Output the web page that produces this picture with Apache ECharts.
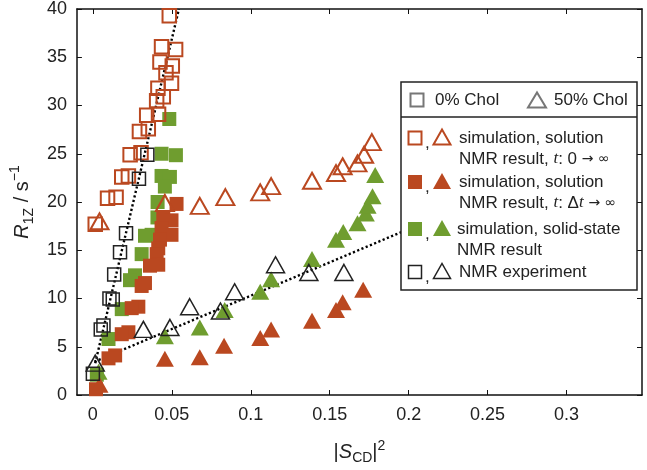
<!DOCTYPE html>
<html><head><meta charset="utf-8">
<script src="https://cdn.jsdelivr.net/npm/echarts@6/dist/echarts.min.js"></script>
<style>html,body{margin:0;padding:0;background:#fff}#c{width:647px;height:470px}</style>
</head><body><div id="c"></div>
<script>
// ---- data ----
const xTickValues = [0, 0.05, 0.1, 0.15, 0.2, 0.25, 0.3];
const yTickValues = [0, 5, 10, 15, 20, 25, 30, 35, 40];

// 0% Chol, simulation solution NMR t:0->inf (open red squares)
const sqSimT0 = [[0.0484,39.3],[0.0435,36.1],[0.0524,35.8],[0.0425,34.5],[0.0503,34.1],[0.0463,33.4],[0.0498,32.3],[0.0412,31.8],[0.0446,30.9],[0.0404,30.5],[0.0416,29.1],[0.0341,29.0],[0.0351,27.6],[0.0295,27.3],[0.0236,24.9],[0.0305,25.1],[0.0183,22.6],[0.0225,22.7],[0.0093,20.4],[0.0147,20.5],[0.0015,17.7]];
// 0% Chol, simulation solution NMR t:dt->inf (filled red squares)
const sqSimDt = [[0.053,19.8],[0.0446,18.4],[0.0498,18.1],[0.0435,17.3],[0.0498,16.6],[0.0425,16.1],[0.0414,15.2],[0.0404,14.6],[0.0414,13.5],[0.0362,13.4],[0.033,11.6],[0.0309,11.3],[0.0288,9.15],[0.0246,9.0],[0.0225,6.5],[0.0183,6.3],[0.0141,4.1],[0.0099,3.8],[0.002,0.6]];
// 0% Chol, simulation solid-state NMR (filled green squares)
const sqSimSolid = [[0.0484,28.6],[0.0435,25.0],[0.0526,24.85],[0.0435,22.7],[0.0488,22.6],[0.0456,21.6],[0.041,20.0],[0.0409,18.4],[0.0372,16.6],[0.033,16.5],[0.0309,14.6],[0.0267,12.4],[0.0235,11.9],[0.0183,8.9],[0.0099,5.8],[0.0025,2.1]];
// 0% Chol, NMR experiment (open black squares)
const sqExp = [[0.0345,24.9],[0.0292,22.4],[0.021,16.75],[0.0172,14.8],[0.0135,12.5],[0.0105,10.0],[0.0126,9.9],[0.0067,7.2],[0.005,6.8],[0.0,2.2]];

// 50% Chol
const triSimT0 = [[0.0042,18.0],[0.0456,19.9],[0.0677,19.6],[0.0839,20.5],[0.106,21.0],[0.1129,21.65],[0.1388,22.2],[0.154,23.0],[0.1582,23.7],[0.1676,24.0],[0.1718,24.9],[0.1767,26.2]];
const triSimDt = [[0.0042,1.05],[0.0456,3.75],[0.0677,3.9],[0.0831,5.1],[0.106,5.9],[0.1129,6.8],[0.1388,7.7],[0.154,8.8],[0.1582,9.6],[0.1712,10.9]];
const triSimSolid = [[0.0036,2.4],[0.0456,6.1],[0.0677,7.0],[0.0835,8.8],[0.106,10.7],[0.1129,12.0],[0.1388,14.1],[0.154,16.1],[0.1586,16.9],[0.1676,17.8],[0.1729,18.8],[0.174,19.6],[0.1771,20.6],[0.1788,22.8]];
const triExp = [[0.0015,3.3],[0.032,6.8],[0.0488,7.0],[0.0613,9.15],[0.0808,8.7],[0.0898,10.7],[0.1157,13.5],[0.1368,12.7],[0.159,12.7]];

// dotted fit lines
const fit0 = [[0.0015,3.3],[0.0545,40]];
const fit50 = [[0.001,3.45],[0.2,17.2]];

// ---- styles ----
const RED = '#BA4820';
const GREEN = '#6F9D2F';
const BLACK = '#222';
const FONT = 'Liberation Sans, Arial, sans-serif';

const chart = echarts.init(document.getElementById('c'), null, {renderer: 'canvas'});

function openSeries(name, data, symbol, size, color, bw, z) {
  return {name, type: 'scatter', data, symbol, symbolSize: size, z,
    itemStyle: {color: 'rgba(255,255,255,0)', borderColor: color, borderWidth: bw, opacity: 1}};
}
function fillSeries(name, data, symbol, size, color, z) {
  return {name, type: 'scatter', data, symbol, symbolSize: size, z,
    itemStyle: {color: color, opacity: 1}};
}
function fitSeries(data) {
  return {type: 'line', data, symbol: 'none', z: 1, silent: true,
    lineStyle: {color: '#000', width: 2.4, type: [2.2, 2.4], cap: 'butt'}};
}

// legend helper graphics
function tri(cx, cy, w, h, fill, stroke, lw) {
  return {type: 'polygon', shape: {points: [[cx - w/2, cy + h/2], [cx + w/2, cy + h/2], [cx, cy - h/2]]},
    style: {fill: fill || 'none', stroke: stroke || null, lineWidth: lw || 0}, z: 100};
}
function sq(cx, cy, s, fill, stroke, lw) {
  return {type: 'rect', shape: {x: cx - s/2, y: cy - s/2, width: s, height: s},
    style: {fill: fill || 'none', stroke: stroke || null, lineWidth: lw || 0}, z: 100};
}
function txt(x, y, t, rich) {
  return {type: 'text', x, y, z: 100,
    style: {text: t, font: '17px ' + FONT, fill: '#222', textVerticalAlign: 'middle', rich: rich}};
}
const legRich = {
  n: {fontSize: 17, fontFamily: FONT, fill: '#222'},
  t: {fontSize: 17, fontFamily: 'Liberation Serif, Times New Roman, serif', fontStyle: 'italic', fill: '#222'},
  s: {fontSize: 14, fontFamily: 'DejaVu Sans, sans-serif', fill: '#222'}
};
const ix = 415, tx = 442, textX = 459;
const graphics = [
  {type: 'rect', shape: {x: 401, y: 82, width: 236, height: 208}, style: {fill: '#fff', stroke: '#222', lineWidth: 1.5}, z: 99},
  {type: 'line', shape: {x1: 401, y1: 117, x2: 637, y2: 117}, style: {stroke: '#222', lineWidth: 1.5}, z: 100},
  sq(417, 100, 13, 'none', '#777', 2), txt(435, 100, '0% Chol'),
  tri(537, 100, 18, 15, 'none', '#777', 2), txt(554, 100, '50% Chol'),
  // row 1
  sq(ix, 138, 13, 'none', RED, 2), txt(425, 143, ','), tri(tx, 137, 17, 15, 'none', RED, 2),
  txt(textX, 138, 'simulation, solution'),
  txt(textX, 159, '{n|NMR result, }{t|t}{n|: 0 }{s|→ ∞}', legRich),
  // row 2
  sq(ix, 182, 14, RED), txt(425, 187, ','), tri(tx, 181, 18, 16, RED),
  txt(textX, 182, 'simulation, solution'),
  txt(textX, 203, '{n|NMR result, }{t|t}{n|: Δ}{t|t}{n| }{s|→ ∞}', legRich),
  // row 3
  sq(ix, 229, 14, GREEN), txt(425, 234, ','), tri(tx, 228, 18, 16, GREEN),
  txt(457, 229, 'simulation, solid-state'),
  txt(457, 250, 'NMR result'),
  // row 4
  sq(ix, 272, 13, 'none', BLACK, 1.5), txt(425, 277, ','), tri(tx, 271, 17, 15, 'none', BLACK, 1.5),
  txt(textX, 272, 'NMR experiment')
];

const axisLine = {show: true, onZero: false, lineStyle: {color: '#111', width: 1.5}};
const option = {
  backgroundColor: '#fff',
  animation: false,
  grid: {left: 75, right: 5, top: 7, bottom: 68, containLabel: false},
  xAxis: [{
    type: 'value', min: -0.0101, max: 0.3478, position: 'bottom',
    axisLine,
    axisTick: {show: true, inside: true, length: 5, customValues: xTickValues, lineStyle: {color: '#111', width: 1}},
    axisLabel: {show: true, customValues: xTickValues, margin: 11, color: '#222', fontSize: 18, fontFamily: FONT,
      formatter: v => String(v)},
    splitLine: {show: false},
    name: '{b||}{i|S}{sub|CD}{b||}{sup|2}', nameLocation: 'middle', nameGap: 44,
    nameTextStyle: {rich: {
      b: {fontSize: 20, fontFamily: FONT, color: '#222', lineHeight: 26, verticalAlign: 'middle'},
      i: {fontSize: 20, fontFamily: FONT, fontStyle: 'italic', color: '#222', lineHeight: 26, verticalAlign: 'middle'},
      sub: {fontSize: 14, fontFamily: FONT, color: '#222', lineHeight: 26, verticalAlign: 'bottom'},
      sup: {fontSize: 14, fontFamily: FONT, color: '#222', lineHeight: 26, verticalAlign: 'top'}
    }}
  }, {
    type: 'value', min: -0.0101, max: 0.3478, position: 'top',
    axisLine,
    axisTick: {show: true, inside: true, length: 5, customValues: xTickValues, lineStyle: {color: '#111', width: 1}},
    axisLabel: {show: false}, splitLine: {show: false}
  }],
  yAxis: [{
    type: 'value', min: 0, max: 40, interval: 5, position: 'left',
    axisLine,
    axisTick: {show: true, inside: true, length: 5, lineStyle: {color: '#111', width: 1}},
    axisLabel: {show: true, margin: 10, color: '#222', fontSize: 18, fontFamily: FONT},
    splitLine: {show: false},
    name: '{i|R}{sub|1Z}{n| / s}{sup|−1}', nameLocation: 'middle', nameGap: 40, nameRotate: 90,
    nameTextStyle: {rich: {
      i: {fontSize: 20, fontFamily: FONT, fontStyle: 'italic', color: '#222', lineHeight: 28, verticalAlign: 'middle'},
      n: {fontSize: 20, fontFamily: FONT, color: '#222', lineHeight: 28, verticalAlign: 'middle'},
      sub: {fontSize: 14, fontFamily: FONT, color: '#222', lineHeight: 28, verticalAlign: 'bottom'},
      sup: {fontSize: 14, fontFamily: FONT, color: '#222', lineHeight: 28, verticalAlign: 'top'}
    }}
  }, {
    type: 'value', min: 0, max: 40, interval: 5, position: 'right',
    axisLine,
    axisTick: {show: true, inside: true, length: 5, lineStyle: {color: '#111', width: 1}},
    axisLabel: {show: false}, splitLine: {show: false}
  }],
  series: [
    fitSeries(fit0),
    fitSeries(fit50),
    fillSeries('sqSimSolid', sqSimSolid, 'rect', 14, GREEN, 2),
    fillSeries('triSimSolid', triSimSolid, 'triangle', [18, 16], GREEN, 2),
    fillSeries('sqSimDt', sqSimDt, 'rect', 14, RED, 3),
    fillSeries('triSimDt', triSimDt, 'triangle', [18, 16], RED, 3),
    openSeries('sqSimT0', sqSimT0, 'rect', 13.5, RED, 2, 4),
    openSeries('triSimT0', triSimT0, 'triangle', [18, 16], RED, 2, 4),
    openSeries('sqExp', sqExp, 'rect', 13, BLACK, 1.5, 5),
    openSeries('triExp', triExp, 'triangle', [18, 16], BLACK, 1.5, 5)
  ],
  graphic: graphics
};
chart.setOption(option);
</script>
</body></html>
